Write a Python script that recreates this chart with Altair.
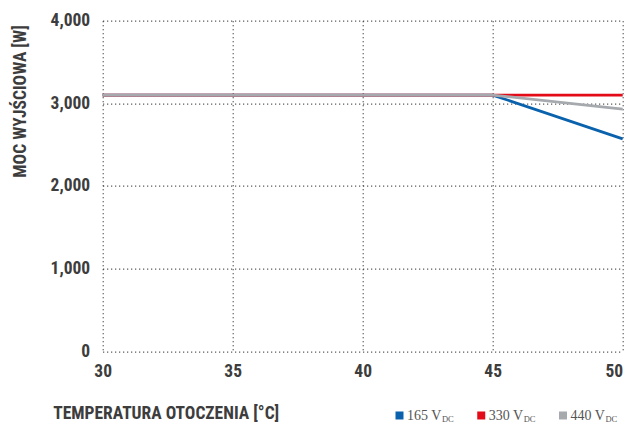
import altair as alt
import pandas as pd

# ---- data ----
temps = [30, 45, 50]
series_names = ["165", "330", "440"]
values_165 = [3100, 3100, 2570]
values_330 = [3100, 3100, 3100]
values_440 = [3100, 3100, 2930]
colors = ["#0A62AC", "#E30B17", "#A6AAAE"]
x_ticks = [30, 35, 40, 45, 50]
y_ticks = [0, 1000, 2000, 3000, 4000]

rows = []
for name, vals, order in [("165", values_165, 0), ("330", values_330, 1), ("440", values_440, 2)]:
    for t, v in zip(temps, vals):
        rows.append({"temp": t, "power": v, "series": name, "order": order})
df = pd.DataFrame(rows)

FONT = "Roboto Condensed, Liberation Sans Narrow, DejaVu Sans Condensed, Open Sans"
TXT = "#3d3d3d"

W, H = 520, 330.5

color_scale = alt.Scale(domain=series_names, range=colors)

lines = alt.Chart(df).mark_line(strokeWidth=2.8, strokeCap="butt").encode(
    x=alt.X(
        "temp:Q",
        scale=alt.Scale(domain=[30, 50], nice=False),
        axis=alt.Axis(
            values=x_ticks,
            format="d",
            title="TEMPERATURA OTOCZENIA [°C]",
            titleAnchor="start",
            titleAlign="left",
            titleX=-50,
            titleY=62,
            titleBaseline="middle",
            labelPadding=11,
            labelAlign=alt.ExprRef(expr="datum.value == 50 ? 'right' : 'center'"),
        ),
    ),
    y=alt.Y(
        "power:Q",
        scale=alt.Scale(domain=[0, 4000], nice=False),
        axis=alt.Axis(
            values=y_ticks,
            format=",.0f",
            title="MOC WYJŚCIOWA [W]",
            titleAngle=-90,
            titleAlign="right",
            titleBaseline="middle",
            titleX=-82,
            titleY=4,
            labelPadding=13,
        ),
    ),
    color=alt.Color("series:N", scale=color_scale, legend=None),
    order=alt.Order("order:Q"),
    detail="series:N",
)

# ---- custom legend with subscript ----
legend_df = pd.DataFrame({
    "series": series_names,
    "label": [s + " V" for s in series_names],
    "sub": ["DC"] * 3,
    "i": [0, 1, 2],
})
legend_df["sx"] = 296.8 + 81.75 * legend_df["i"]
legend_df["tx"] = legend_df["sx"] + 7.5
legend_df["dx"] = legend_df["tx"] + 35

base_leg = alt.Chart(legend_df)
leg_sq = base_leg.mark_square(size=64, opacity=1).encode(
    x=alt.X("sx:Q", scale=None, axis=None),
    y=alt.value(394.8),
    color=alt.Color("series:N", scale=color_scale, legend=None),
)
leg_txt = base_leg.mark_text(
    align="left", baseline="alphabetic", font="Liberation Serif", fontSize=14, color="#555555"
).encode(
    x=alt.X("tx:Q", scale=None, axis=None),
    y=alt.value(399.3),
    text="label:N",
)
leg_sub = base_leg.mark_text(
    align="left", baseline="alphabetic", font="Liberation Serif", fontSize=8.5, color="#555555"
).encode(
    x=alt.X("dx:Q", scale=None, axis=None),
    y=alt.value(401.3),
    text="sub:N",
)

chart = (
    alt.layer(lines, leg_sq, leg_txt, leg_sub)
    .properties(
        width=W,
        height=H,
        autosize=alt.AutoSizeParams(type="none"),
        padding={"left": 94.7, "top": 12.7, "right": 1.3, "bottom": 72},
    )
    .configure_view(stroke=None)
    .configure_axis(
        domain=False,
        ticks=False,
        grid=True,
        gridColor="#333333",
        gridDash=[1, 3],
        gridWidth=1.2,
        gridOpacity=1,
        labelFont=FONT,
        labelFontSize=17.5,
        labelFontWeight="bold",
        labelColor=TXT,
        titleFont=FONT,
        titleFontSize=17.5,
        titleFontWeight="bold",
        titleColor=TXT,
    )
)

chart.save("out.html", embed_options={"renderer": "svg", "actions": False})
